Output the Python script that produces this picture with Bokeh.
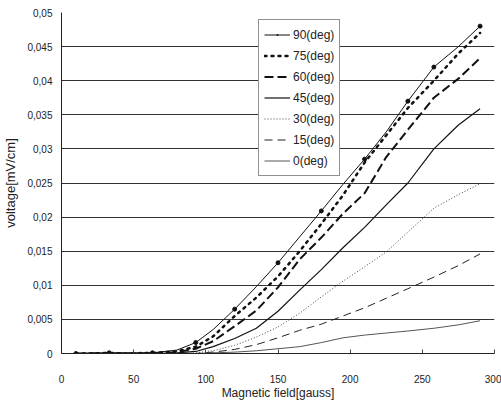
from bokeh.plotting import figure
from bokeh.models import FixedTicker, Legend, LegendItem
from bokeh.embed import file_html
from bokeh.resources import INLINE

field = [10, 20, 33, 45, 63, 80, 93, 105, 120, 135, 150, 165, 180, 195, 210, 225, 240, 258, 275, 290]

v90 = [0, 0.0001, 0.0001, 0.0001, 0.0001, 0.0005, 0.0016, 0.0035, 0.0065, 0.0098, 0.0133, 0.0171, 0.0209, 0.0248, 0.0285, 0.0325, 0.0370, 0.0420, 0.0450, 0.0480]
v75 = [0, 0, 0.0001, 0, 0.0001, 0.0003, 0.0010, 0.0025, 0.0055, 0.0082, 0.0113, 0.0150, 0.0190, 0.0232, 0.0280, 0.0320, 0.0360, 0.0400, 0.0440, 0.0470]
v60 = [0, 0, 0, 0, 0, 0.0002, 0.0007, 0.0018, 0.0040, 0.0063, 0.0097, 0.0138, 0.0170, 0.0205, 0.0235, 0.0288, 0.0328, 0.0375, 0.0403, 0.0433]
v45 = [0, 0, 0, 0, 0, 0.0001, 0.0003, 0.0010, 0.0022, 0.0037, 0.0062, 0.0093, 0.0123, 0.0155, 0.0185, 0.0218, 0.0250, 0.0300, 0.0335, 0.0359]
v30 = [0, 0, 0, 0, 0, 0, 0.0001, 0.0004, 0.0012, 0.0024, 0.0039, 0.0059, 0.0083, 0.0106, 0.0127, 0.0149, 0.0178, 0.0213, 0.0233, 0.0249]
v15 = [0, 0, 0, 0, 0, 0, 0, 0.0002, 0.0006, 0.0013, 0.0023, 0.0034, 0.0043, 0.0055, 0.0067, 0.0081, 0.0095, 0.0112, 0.0129, 0.0146]
v0 = [0, 0, 0, 0, 0, 0, 0, 0.0001, 0.0002, 0.0004, 0.0007, 0.0010, 0.0016, 0.0023, 0.0027, 0.0030, 0.0033, 0.0037, 0.0042, 0.0048]

marker_field = [10, 33, 63, 93, 120, 150, 180, 210, 240, 258, 290]
marker_v90 = [0, 0.0001, 0.0001, 0.0016, 0.0065, 0.0133, 0.0209, 0.0285, 0.0370, 0.0420, 0.0480]

labels = ["90(deg)", "75(deg)", "60(deg)", "45(deg)", "30(deg)", "15(deg)", "0(deg)"]

xtick_values = [0, 50, 100, 150, 200, 250, 300]
ytick_values = [0, 0.005, 0.01, 0.015, 0.02, 0.025, 0.03, 0.035, 0.04, 0.045, 0.05]
ytick_labels = ["0", "0,005", "0,01", "0,015", "0,02", "0,025", "0,03", "0,035", "0,04", "0,045", "0,05"]

FONT = "Liberation Sans"

p = figure(width=501, height=403, output_backend="svg", toolbar_location=None,
           x_range=(0, 300), y_range=(0, 0.05),
           min_border_left=61, min_border_right=7, min_border_top=12, min_border_bottom=50)
p.outline_line_color = None
p.background_fill_color = "white"
p.border_fill_color = "white"

p.xgrid.grid_line_color = None
p.ygrid.grid_line_color = "#333333"
p.ygrid.grid_line_width = 1
p.ygrid.ticker = FixedTicker(ticks=ytick_values)

p.xaxis.ticker = FixedTicker(ticks=xtick_values)
p.yaxis.ticker = FixedTicker(ticks=ytick_values)
p.yaxis.major_label_overrides = {v: l for v, l in zip(ytick_values, ytick_labels)}
p.xaxis.major_label_overrides = {v: str(v) for v in xtick_values}

for ax in (p.xaxis[0], p.yaxis[0]):
    ax.major_label_text_font = FONT
    ax.major_label_text_font_size = "10px"
    ax.major_label_text_color = "#222222"
    ax.axis_line_color = "#222222"
    ax.minor_tick_line_color = None
    ax.axis_label_text_font = FONT
    ax.axis_label_text_font_style = "normal"
    ax.axis_label_text_color = "#222222"

p.yaxis.major_tick_line_color = None
p.yaxis.major_tick_in = 0
p.yaxis.major_tick_out = 0
p.yaxis.major_label_standoff = 9
p.xaxis.major_tick_in = 4
p.xaxis.major_tick_out = 0
p.xaxis.major_tick_line_color = "#444444"
p.xaxis.major_label_standoff = 21
p.xaxis.axis_label = "Magnetic field[gauss]"
p.xaxis.axis_label_text_font_size = "12px"
p.xaxis.axis_label_standoff = 0
p.yaxis.axis_label = "voltage[mV/cm]"
p.yaxis.axis_label_text_font_size = "13px"
p.yaxis.axis_label_standoff = 6

r90 = p.line(field, v90, line_color="#111111", line_width=1)
m90 = p.scatter(marker_field, marker_v90, marker="circle", size=4, color="#111111")
m90_key = p.scatter(marker_field, marker_v90, marker="dot", size=10, color="#111111", line_width=2)
r75 = p.line(field, v75, line_color="#111111", line_width=2.5, line_dash="2 5", line_cap="round")
r60 = p.line(field, v60, line_color="#111111", line_width=2, line_dash="9 4")
r45 = p.line(field, v45, line_color="#111111", line_width=1.2)
r30 = p.line(field, v30, line_color="#444444", line_width=1, line_dash="1 2")
r15 = p.line(field, v15, line_color="#222222", line_width=1, line_dash="8 5")
r0 = p.line(field, v0, line_color="#555555", line_width=1)

renderers = [[r90, m90_key], [r75], [r60], [r45], [r30], [r15], [r0]]
legend = Legend(items=[LegendItem(label=l, renderers=r) for l, r in zip(labels, renderers)],
                location=(197, 177))
legend.border_line_color = "#222222"
legend.border_line_width = 1
legend.background_fill_alpha = 1
legend.label_text_font = FONT
legend.label_text_font_size = "12px"
legend.label_text_color = "#222222"
legend.glyph_width = 26
legend.glyph_height = 19
legend.label_height = 19
legend.spacing = 2
legend.padding = 5
legend.margin = 0
legend.label_standoff = 3
p.add_layout(legend, "center")

open("out.html", "w").write(file_html(p, INLINE))
